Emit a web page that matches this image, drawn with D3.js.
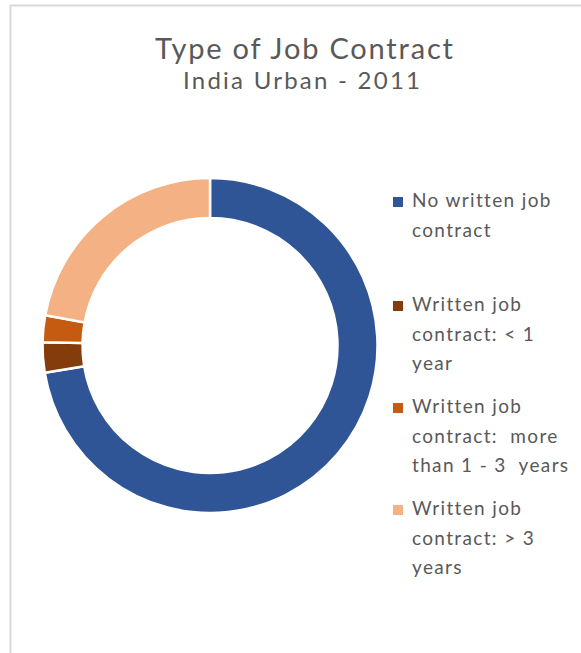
<!DOCTYPE html>
<html>
<head>
<meta charset="utf-8">
<script src="https://cdn.jsdelivr.net/npm/d3@7"></script>
<style>
  html, body { margin: 0; padding: 0; background: #fff; }
  svg { display: block; }
</style>
</head>
<body>
<svg id="chart" width="581" height="653"></svg>
<script>
const categories = [
  "No written job contract",
  "Written job contract: < 1 year",
  "Written job contract:  more than 1 - 3  years",
  "Written job contract: > 3 years"
];
const values = [72.4, 2.9, 2.6, 22.1];
const colors = ["#2F5597", "#843C0C", "#C55A11", "#F4B183"];
const legendLines = [
  ["No written job", "contract"],
  ["Written job", "contract: < 1", "year"],
  ["Written job", "contract:  more", "than 1 - 3  years"],
  ["Written job", "contract: > 3", "years"]
];
const titleText = "Type of Job Contract";
const subtitleText = "India Urban - 2011";

const svg = d3.select("#chart");
const font = "Lato, 'Open Sans', sans-serif";
const textColor = "#595959";

// chart frame border
svg.append("path")
  .attr("d", "M10.5,653 L10.5,5.5 L581,5.5")
  .attr("fill", "none")
  .attr("stroke", "#D9D9D9")
  .attr("stroke-width", 2);

svg.append("text")
  .attr("x", 304).attr("y", 59)
  .attr("text-anchor", "middle")
  .attr("font-family", font).attr("font-size", 29)
  .attr("textLength", 298).attr("lengthAdjust", "spacing")
  .attr("fill", textColor)
  .text(titleText);

svg.append("text")
  .attr("x", 301.5).attr("y", 89)
  .attr("text-anchor", "middle")
  .attr("font-family", font).attr("font-size", 24)
  .attr("textLength", 237).attr("lengthAdjust", "spacing")
  .attr("fill", textColor)
  .text(subtitleText);

const cx = 210, cy = 345.5, rOut = 167.5, rIn = 127.5;
const pie = d3.pie().sort(null).value(d => d);
const arc = d3.arc().innerRadius(rIn).outerRadius(rOut);
const color = d3.scaleOrdinal().domain(categories).range(colors);

const g = svg.append("g").attr("transform", `translate(${cx},${cy})`);
g.selectAll("path")
  .data(pie(values))
  .join("path")
  .attr("d", arc)
  .attr("fill", (d, i) => color(categories[i]))
  .attr("stroke", "#fff")
  .attr("stroke-width", 2.5)
  .attr("stroke-linejoin", "miter");

// legend
const legendTop = [207, 311, 413, 515];
const lineH = 29.7;
const lg = svg.append("g");
legendLines.forEach((lines, i) => {
  const y0 = legendTop[i];
  lg.append("rect")
    .attr("x", 393).attr("y", y0 - 10)
    .attr("width", 10).attr("height", 10)
    .attr("fill", color(categories[i]));
  const t = lg.append("text")
    .attr("font-family", font).attr("font-size", 19)
    .attr("letter-spacing", 1.35)
    .attr("fill", textColor)
    .attr("xml:space", "preserve");
  lines.forEach((ln, j) => {
    t.append("tspan").attr("x", 412).attr("y", y0 + j * lineH).text(ln);
  });
});
</script>
</body>
</html>
